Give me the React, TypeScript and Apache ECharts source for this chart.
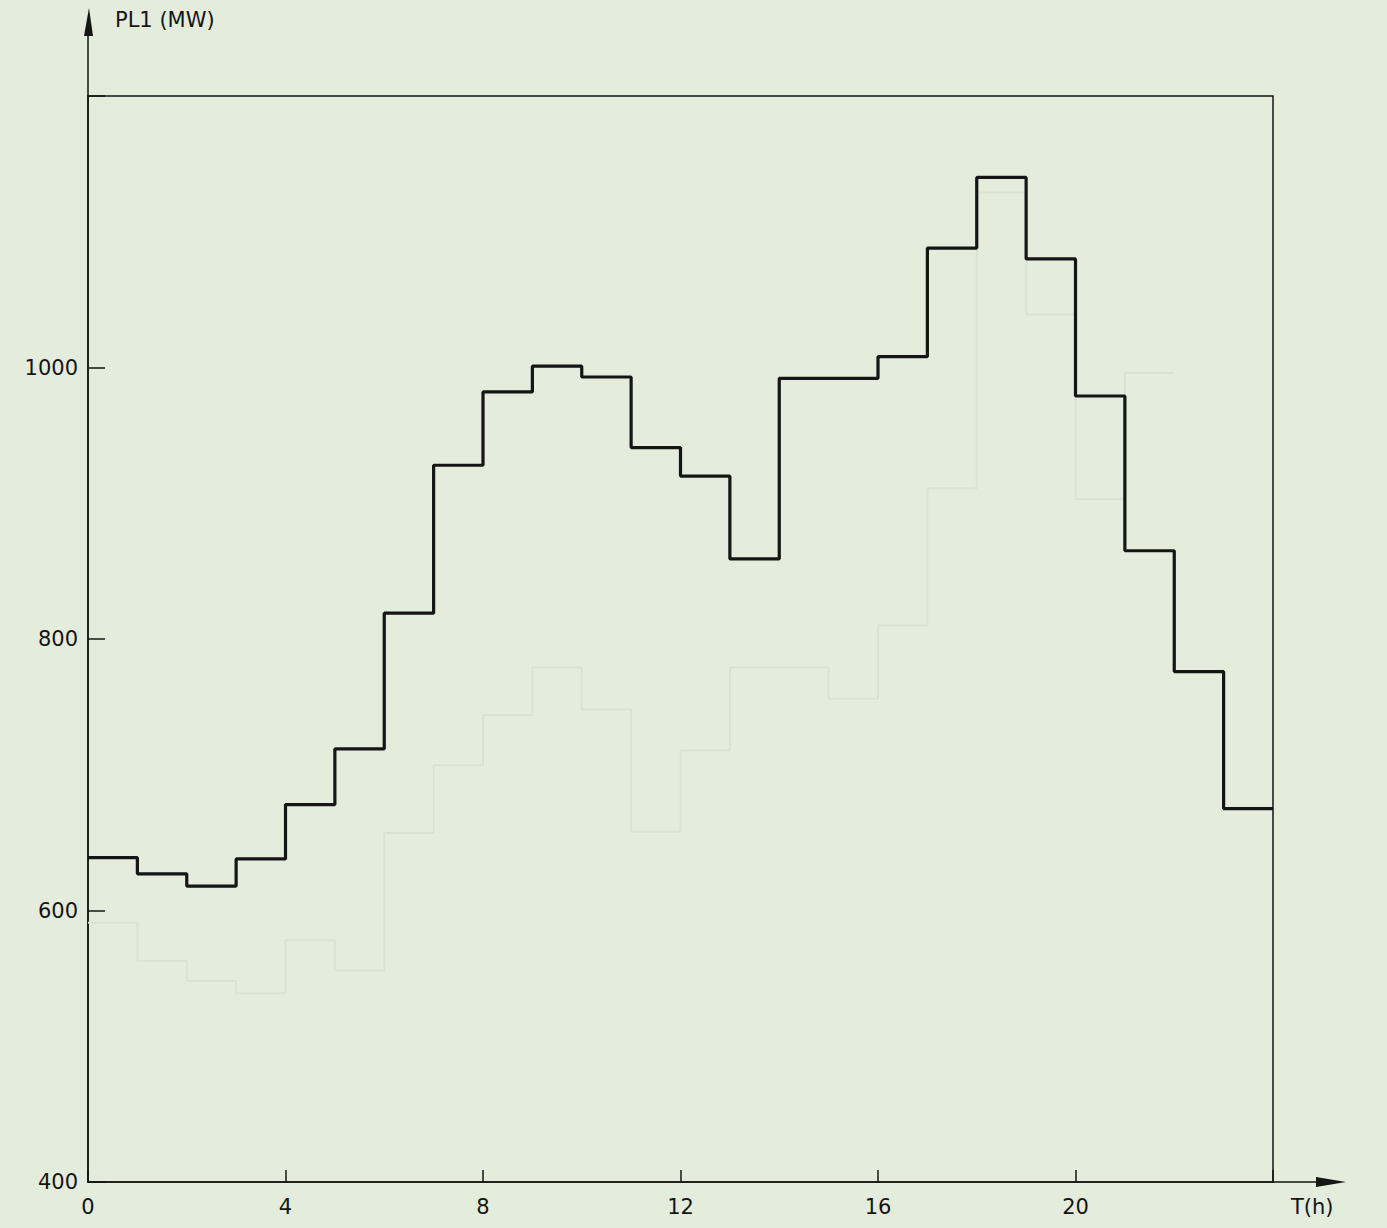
import React, { useEffect, useRef } from "react";
import * as echarts from "echarts";

// Hour boundaries (h) and hourly load PL1 (MW)
const hourStarts = [0, 1, 2, 3, 4, 5, 6, 7, 8, 9, 10, 11, 12, 13, 14, 15, 16, 17, 18, 19, 20, 21, 22, 23];
const loadMW = [639, 627, 618, 638, 678, 719, 819, 928, 982, 1001, 993, 941, 920, 859, 992, 992, 1008, 1088, 1140, 1080, 979, 865, 776, 675];
// Faint show-through curve visible in the scan
const ghostMW = [591, 563, 548, 539, 578, 556, 657, 707, 744, 779, 748, 658, 718, 779, 779, 756, 810, 911, 1129, 1039, 903, 996];
const dayEnd = 24;
const xTicks = [0, 4, 8, 12, 16, 20];
const yTicks = [400, 600, 800, 1000];

const BG = "#e4ecdc";
const INK = "#151515";
const FONT = "DejaVu Sans";

function stepData(vals: number[], end: number) {
  const pts: [number, number][] = vals.map((v, i) => [hourStarts[i], v]);
  pts.push([end, vals[vals.length - 1]]);
  return pts;
}

export default function App() {
  const ref = useRef<HTMLDivElement>(null);
  useEffect(() => {
    if (!ref.current) return;
    const chart = echarts.init(ref.current, null, { renderer: "svg" });
    const L = 88, R = 1273, T = 96, B = 1182;
    chart.setOption({
      animation: false,
      backgroundColor: BG,
      grid: {
        left: L,
        right: 1387 - R,
        top: T,
        bottom: 1228 - B,
        show: true,
        borderColor: INK,
        borderWidth: 1.5,
        backgroundColor: "transparent",
      },
      xAxis: {
        type: "value",
        min: 0,
        max: dayEnd,
        interval: 4,
        name: "T(h)",
        nameLocation: "end",
        nameGap: 18,
        nameTextStyle: { color: INK, fontFamily: FONT, fontSize: 21, verticalAlign: "top", padding: [14, 0, 0, 0] },
        axisLine: { show: true, lineStyle: { color: INK, width: 1.5 } },
        axisTick: { show: true, inside: true, length: 12, lineStyle: { color: INK, width: 1.5 } },
        axisLabel: {
          color: INK,
          fontFamily: FONT,
          fontSize: 21,
          margin: 14,
          formatter: (v: number) => (xTicks.includes(v) ? String(v) : ""),
        },
        splitLine: { show: false },
      },
      yAxis: {
        type: "value",
        min: 400,
        max: 1200,
        interval: 200,
        name: "PL1 (MW)",
        nameLocation: "end",
        nameGap: 76,
        nameTextStyle: { color: INK, fontFamily: FONT, fontSize: 21, align: "left", verticalAlign: "middle", padding: [0, 0, 0, 27] },
        axisLine: { show: true, lineStyle: { color: INK, width: 1.5 } },
        axisTick: { show: true, inside: true, length: 17, lineStyle: { color: INK, width: 1.5 } },
        axisLabel: {
          color: INK,
          fontFamily: FONT,
          fontSize: 21,
          margin: 10,
          formatter: (v: number) => (yTicks.includes(v) ? String(v) : ""),
        },
        splitLine: { show: false },
      },
      series: [
        {
          type: "line",
          name: "ghost",
          step: "end",
          data: stepData(ghostMW, 22),
          symbol: "none",
          lineStyle: { color: "#dae3d2", width: 2 },
          silent: true,
          z: 1,
        },
        {
          type: "line",
          name: "PL1",
          step: "end",
          data: stepData(loadMW, dayEnd),
          symbol: "none",
          lineStyle: { color: INK, width: 3.2 },
          z: 3,
        },
      ],
      graphic: [
        { type: "line", shape: { x1: L, y1: T, x2: L, y2: 30 }, style: { stroke: INK, lineWidth: 1.5 } },
        { type: "polygon", shape: { points: [[L + 1, 8], [L - 4, 36], [L + 5, 36]] }, style: { fill: INK } },
        { type: "line", shape: { x1: R, y1: B, x2: 1320, y2: B }, style: { stroke: INK, lineWidth: 1.5 } },
        { type: "polygon", shape: { points: [[1346, B], [1316, B - 5], [1316, B + 5]] }, style: { fill: INK } },
      ],
    });
    return () => chart.dispose();
  }, []);
  return (
    <div
      ref={ref}
      style={{ position: "fixed", left: 0, top: 0, width: 1387, height: 1228, background: BG }}
    />
  );
}
